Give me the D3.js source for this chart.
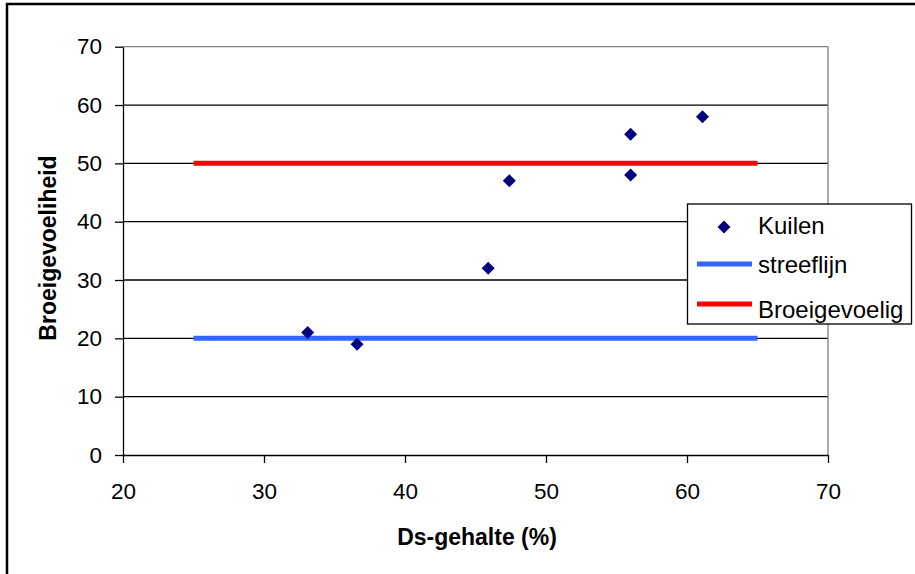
<!DOCTYPE html>
<html><head><meta charset="utf-8">
<script src="https://cdn.jsdelivr.net/npm/d3@7"></script>
<style>body{margin:0;background:#fff}svg{display:block}</style>
</head><body><svg id="c" width="915" height="574"></svg>
<script>
const kuilenX = [33.1, 36.6, 45.9, 47.4, 56.0, 56.0, 61.1];
const kuilenY = [21, 19, 32, 47, 55, 48, 58];
const streefX = [25, 65];
const streefY = [20, 20];
const broeiX = [25, 65];
const broeiY = [50, 50];
const xTicks = [20, 30, 40, 50, 60, 70];
const yTicks = [0, 10, 20, 30, 40, 50, 60, 70];
const legendLabels = ["Kuilen", "streeflijn", "Broeigevoelig"];

const svg = d3.select("#c");
const font = "Liberation Sans, Arial, sans-serif";
svg.append("rect").attr("x",7).attr("y",4).attr("width",920).attr("height",580)
  .attr("fill","#fff").attr("stroke","#000").attr("stroke-width",2.5);

const L=123,R=828,T=46.7,B=455;
const x = d3.scaleLinear().domain([20,70]).range([L,R]);
const y = d3.scaleLinear().domain([0,70]).range([B,T]);

svg.append("g").selectAll("line").data(yTicks.filter(d=>d>0&&d<70)).join("line")
  .attr("x1",L).attr("x2",R).attr("y1",d=>y(d)).attr("y2",d=>y(d))
  .attr("stroke","#000").attr("stroke-width",1.3);
svg.append("line").attr("x1",L).attr("x2",R).attr("y1",y(70)).attr("y2",y(70)).attr("stroke","#808080").attr("stroke-width",1.3);
svg.append("line").attr("x1",R).attr("x2",R).attr("y1",T).attr("y2",B).attr("stroke","#808080").attr("stroke-width",1.3);

const xAxis = svg.append("g").attr("transform",`translate(0,${B})`)
  .call(d3.axisBottom(x).tickValues(xTicks).tickSize(8).tickSizeOuter(0).tickPadding(20));
const yAxis = svg.append("g").attr("transform",`translate(${L},0)`)
  .call(d3.axisLeft(y).tickValues(yTicks).tickSize(8).tickSizeOuter(0).tickPadding(13));
[xAxis,yAxis].forEach(a=>{
  a.select(".domain").attr("stroke","#000").attr("stroke-width",1.3);
  a.selectAll(".tick line").attr("stroke","#000").attr("stroke-width",1.3);
  a.selectAll("text").attr("font-family",font).attr("font-size",22.5).attr("fill","#000");
});

const line = d3.line().x(d=>x(d[0])).y(d=>y(d[1]));
svg.append("path").datum(streefX.map((v,i)=>[v,streefY[i]])).attr("d",line)
  .attr("stroke","#3366FF").attr("stroke-width",5).attr("fill","none");
svg.append("path").datum(broeiX.map((v,i)=>[v,broeiY[i]])).attr("d",line)
  .attr("stroke","#FF0000").attr("stroke-width",5).attr("fill","none");

const diamond = "M0,-6.5L6.5,0L0,6.5L-6.5,0Z";
svg.append("g").selectAll("path").data(kuilenX.map((v,i)=>[v,kuilenY[i]])).join("path")
  .attr("d",diamond).attr("transform",d=>`translate(${x(d[0])},${y(d[1])})`)
  .attr("fill","#000080");

svg.append("text").attr("x",477).attr("y",545).attr("text-anchor","middle")
  .attr("font-family",font).attr("font-weight","bold").attr("font-size",23).text("Ds-gehalte (%)");
svg.append("text").attr("transform","translate(56,248) rotate(-90)").attr("text-anchor","middle")
  .attr("font-family",font).attr("font-weight","bold").attr("font-size",23).text("Broeigevoeliheid");

const lg = svg.append("g");
lg.append("rect").attr("x",687.5).attr("y",204).attr("width",224).attr("height",120)
  .attr("fill","#fff").attr("stroke","#000").attr("stroke-width",1.3);
const rows=[227,264,304];
const base=[234,273,318];
lg.append("path").attr("d",diamond).attr("transform",`translate(724,${rows[0]})`).attr("fill","#000080");
lg.append("line").attr("x1",697).attr("x2",752).attr("y1",rows[1]).attr("y2",rows[1]).attr("stroke","#3366FF").attr("stroke-width",5);
lg.append("line").attr("x1",697).attr("x2",752).attr("y1",rows[2]).attr("y2",rows[2]).attr("stroke","#FF0000").attr("stroke-width",5);
legendLabels.forEach((t,i)=>{
  lg.append("text").attr("x",758).attr("y",base[i]).attr("font-family",font).attr("font-size",24)
    .attr("fill","#000").text(t);
});
</script></body></html>
